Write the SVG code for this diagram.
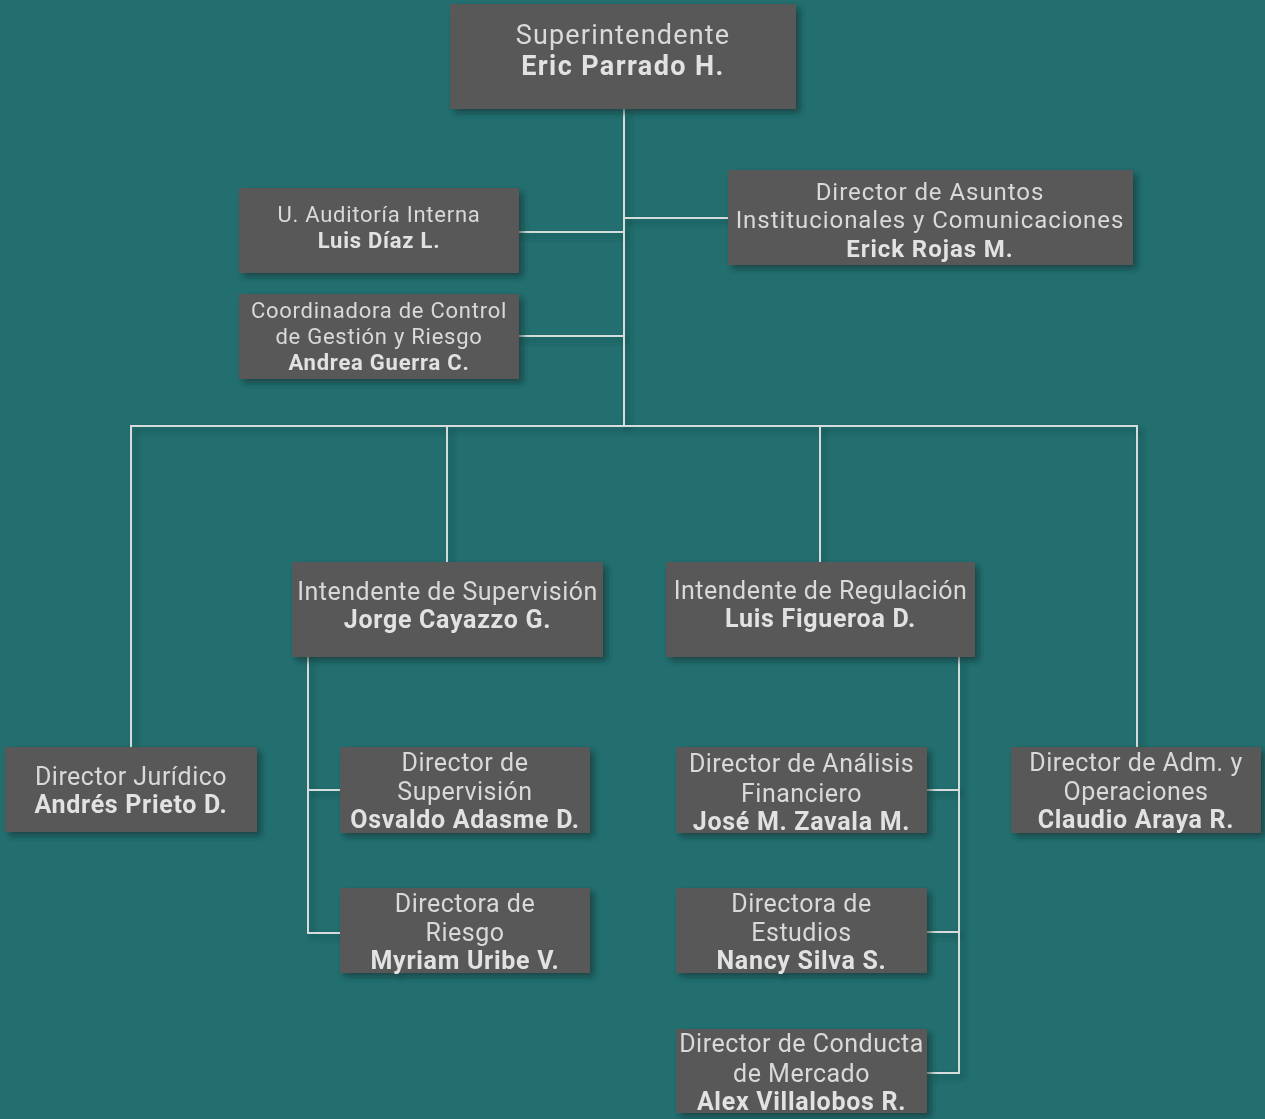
<svg xmlns="http://www.w3.org/2000/svg" width="1265" height="1119" viewBox="0 0 1265 1119">
<defs>
<filter id="sh" x="-10%" y="-10%" width="130%" height="130%">
<feDropShadow dx="4" dy="4" stdDeviation="3" flood-color="#0b2a2a" flood-opacity="0.6"/>
</filter>
<style>
.box{fill:#595959;}
.t{font-family:Roboto,"Liberation Sans",sans-serif;font-size:25px;fill:#d9d9d9;text-anchor:middle;letter-spacing:0.5px;}
.b{font-weight:bold;fill:#e2e2e2;letter-spacing:0.7px;}
.s{font-size:22px;letter-spacing:0.75px;}
.m{font-size:24px;letter-spacing:0.95px;}
.l{font-size:27px;letter-spacing:1.2px;}
.l.b{letter-spacing:1.4px;}
.ln{fill:none;stroke:#d6dcdc;stroke-width:2;}
</style>
</defs>
<rect width="1265" height="1119" fill="#236f70"/>
<g id="connectors" filter="url(#sh)">
<path class="ln" d="M624,109 V426"/>
<path class="ln" d="M519,232 H624"/>
<path class="ln" d="M519,336 H624"/>
<path class="ln" d="M624,218 H728"/>
<path class="ln" d="M131,747 V426 H1137 V747"/>
<path class="ln" d="M447,426 V562"/>
<path class="ln" d="M820,426 V562"/>
<path class="ln" d="M308,657 V933 H340 M308,790 H340"/>
<path class="ln" d="M959,657 V1073 H927 M927,790 H959 M927,932 H959"/>
</g>
<g id="superintendente" filter="url(#sh)">
<rect class="box" x="450" y="4" width="346" height="105"/>
<text class="t l" x="623" y="44">Superintendente</text>
<text class="t l b" x="623" y="75">Eric Parrado H.</text>
</g>
<g id="auditoria" filter="url(#sh)">
<rect class="box" x="239" y="188" width="280" height="85"/>
<text class="t s" x="379" y="222">U. Auditoría Interna</text>
<text class="t s b" x="379" y="248">Luis Díaz L.</text>
</g>
<g id="coordinadora" filter="url(#sh)">
<rect class="box" x="239" y="294" width="280" height="85"/>
<text class="t s" x="379" y="318">Coordinadora de Control</text>
<text class="t s" x="379" y="344">de Gestión y Riesgo</text>
<text class="t s b" x="379" y="370">Andrea Guerra C.</text>
</g>
<g id="asuntos" filter="url(#sh)">
<rect class="box" x="728" y="170" width="405" height="95"/>
<text class="t m" x="930" y="200">Director de Asuntos</text>
<text class="t m" x="930" y="228">Institucionales y Comunicaciones</text>
<text class="t m b" x="930" y="257">Erick Rojas M.</text>
</g>
<g id="juridico" filter="url(#sh)">
<rect class="box" x="5" y="747" width="252" height="85"/>
<text class="t" x="131" y="785">Director Jurídico</text>
<text class="t b" x="131" y="813">Andrés Prieto D.</text>
</g>
<g id="int-supervision" filter="url(#sh)">
<rect class="box" x="292" y="562" width="311" height="95"/>
<text class="t" x="447.5" y="600">Intendente de Supervisión</text>
<text class="t b" x="447.5" y="628">Jorge Cayazzo G.</text>
</g>
<g id="int-regulacion" filter="url(#sh)">
<rect class="box" x="666" y="562" width="309" height="95"/>
<text class="t" x="820.5" y="599">Intendente de Regulación</text>
<text class="t b" x="820.5" y="627">Luis Figueroa D.</text>
</g>
<g id="dir-supervision" filter="url(#sh)">
<rect class="box" x="340" y="747" width="250" height="86"/>
<text class="t" x="465" y="771">Director de</text>
<text class="t" x="465" y="800">Supervisión</text>
<text class="t b" x="465" y="828">Osvaldo Adasme D.</text>
</g>
<g id="dir-riesgo" filter="url(#sh)">
<rect class="box" x="340" y="888" width="250" height="85"/>
<text class="t" x="465" y="912">Directora de</text>
<text class="t" x="465" y="941">Riesgo</text>
<text class="t b" x="465" y="969">Myriam Uribe V.</text>
</g>
<g id="dir-analisis" filter="url(#sh)">
<rect class="box" x="676" y="747" width="251" height="86"/>
<text class="t" x="801.5" y="772">Director de Análisis</text>
<text class="t" x="801.5" y="802">Financiero</text>
<text class="t b" x="801.5" y="830">José M. Zavala M.</text>
</g>
<g id="dir-estudios" filter="url(#sh)">
<rect class="box" x="676" y="888" width="251" height="85"/>
<text class="t" x="801.5" y="912">Directora de</text>
<text class="t" x="801.5" y="941">Estudios</text>
<text class="t b" x="801.5" y="969">Nancy Silva S.</text>
</g>
<g id="dir-conducta" filter="url(#sh)">
<rect class="box" x="676" y="1029" width="251" height="84"/>
<text class="t" x="801.5" y="1052">Director de Conducta</text>
<text class="t" x="801.5" y="1082">de Mercado</text>
<text class="t b" x="801.5" y="1110">Alex Villalobos R.</text>
</g>
<g id="dir-adm" filter="url(#sh)">
<rect class="box" x="1011" y="747" width="250" height="86"/>
<text class="t" x="1136" y="771">Director de Adm. y</text>
<text class="t" x="1136" y="800">Operaciones</text>
<text class="t b" x="1136" y="828">Claudio Araya R.</text>
</g>
</svg>
